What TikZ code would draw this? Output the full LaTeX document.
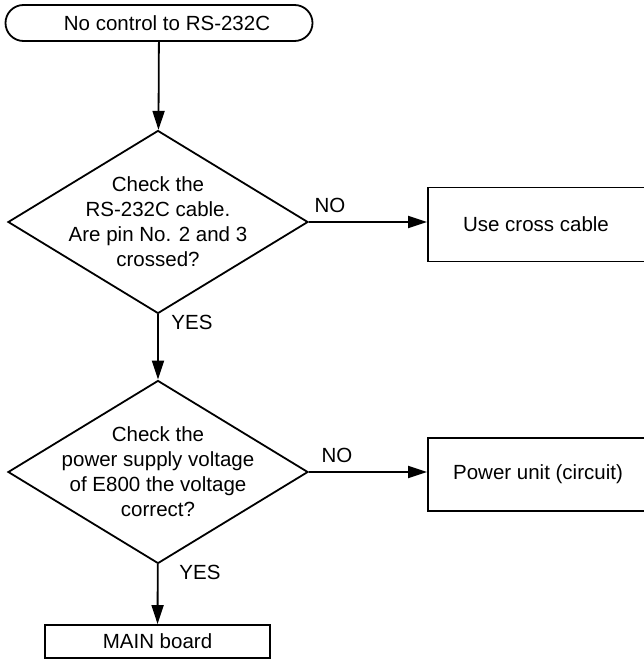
\documentclass[tikz,border=0pt]{standalone}
\usepackage{fontspec}
\setmainfont{Liberation Sans}
\usetikzlibrary{shapes.geometric}
\usetikzlibrary{arrows.meta}

\begin{document}
\begin{tikzpicture}[x=1pt, y=-1pt, line width=1.8pt,
        every node/.style={font=\fontsize{20.5}{25}\selectfont},
        every label/.style={align=center},
        decision/.style={shape=diamond, draw, inner sep=0pt, minimum width=300pt, minimum height=183pt},
        result/.style={shape=rectangle, draw, inner sep=0pt, minimum width=230pt, minimum height=74pt},
        flow/.style={-{Triangle[length=19pt,width=12pt]}}]
        \useasboundingbox (0,0) rectangle (643,660);
        % \draw[help lines] (0,0) grid[step=50] (643,660);
        \node (start) at (159,23) [draw, rounded corners=18pt, minimum width=307pt, minimum height=36pt, inner sep=0pt, label={[xshift=8pt]center:No control to RS-232C}] {};
        \node (q1) at (158,222) [decision, label={center:Check the\\RS-232C cable.\\Are pin No. 2 and 3\\crossed?}] {};
        \node (q2) at (158,472) [decision, label={center:Check the\\power supply voltage\\of E800 the voltage\\correct?}] {};
        \node (cable) at (543,224.5) [result, label={[xshift=-7pt]center:Use cross cable}] {};
        \node (power) at (543,474.5) [result, minimum height=73pt, label={[xshift=-5pt]center:Power unit (circuit)}] {};
        \node (main) at (157.5,641.5) [draw, minimum width=225pt, minimum height=33pt, inner sep=0pt] {MAIN board};
        \node (no1) at (330,205) {NO};
        \node (no2) at (337,455) {NO};
        \node (yes1) at (192,322) {YES};
        \node (yes2) at (200,572) {YES};
        \draw (start) [flow] -- (q1);
        \draw (q1) [flow] -- (q2);
        \draw (q1.east) [flow] -- (q1.east -| cable.west);
        \draw (q2.east) [flow] -- (q2.east -| power.west);
        \draw (q2) [flow] -- (main);
    \end{tikzpicture}
\end{document}
